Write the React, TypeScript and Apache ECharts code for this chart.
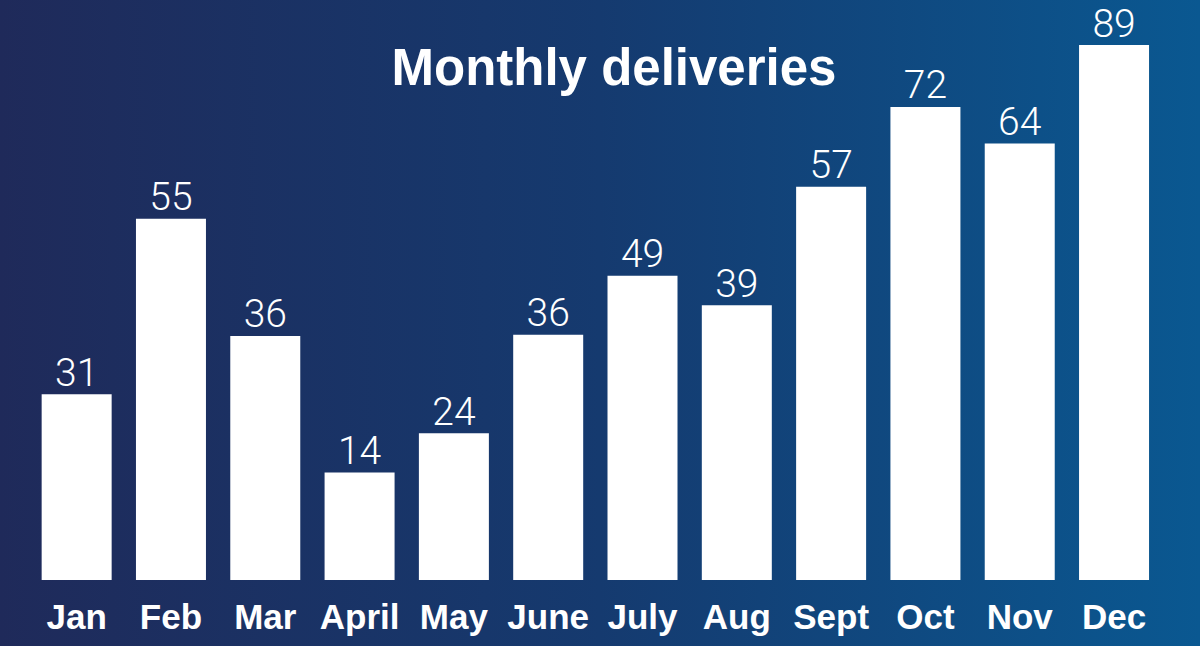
import React, { useEffect, useRef } from "react";
import * as echarts from "echarts";

const months = ["Jan", "Feb", "Mar", "April", "May", "June", "July", "Aug", "Sept", "Oct", "Nov", "Dec"];
// Printed delivery counts
const deliveries = [31, 55, 36, 14, 24, 36, 49, 39, 57, 72, 64, 89];
// Bar lengths as drawn in the source graphic (same units, scaled to Dec = 89)
const barHeights = [30.9, 60.1, 40.6, 17.9, 24.4, 40.8, 50.6, 45.7, 65.4, 78.7, 72.6, 89];
const titleText = "Monthly deliveries";

export default function App() {
  const ref = useRef<HTMLDivElement>(null);
  useEffect(() => {
    document.body.style.margin = "0";
    const chart = echarts.init(ref.current!, null, { renderer: "svg" });
    chart.setOption({
      animation: false,
      backgroundColor: "transparent",
      title: {
        text: titleText,
        left: 609,
        textAlign: "center",
        top: 37,
        textStyle: {
          color: "#ffffff",
          fontSize: 51,
          fontWeight: "bold",
          fontFamily: "'Liberation Sans', Arial, sans-serif",
        },
      },
      grid: { left: 29.5, right: 38.8, top: 45, bottom: 66 },
      xAxis: {
        type: "category",
        data: months,
        axisLine: { show: false },
        axisTick: { show: false },
        axisLabel: {
          color: "#ffffff",
          fontSize: 35,
          fontWeight: "bold",
          fontFamily: "'Liberation Sans', Arial, sans-serif",
          margin: 19,
          interval: 0,
        },
      },
      yAxis: {
        type: "value",
        min: 0,
        max: 89,
        show: false,
        splitLine: { show: false },
      },
      series: [
        {
          type: "bar",
          data: barHeights,
          barWidth: 70,
          itemStyle: { color: "#ffffff" },
          label: {
            show: true,
            position: "top",
            distance: 2,
            color: "#ffffff",
            fontSize: 39,
            fontWeight: 300,
            fontFamily: "'Helvetica Neue', Roboto, 'Open Sans', Lato, sans-serif",
            formatter: (p: any) => String(deliveries[p.dataIndex]),
          },
        },
      ],
    });
    return () => chart.dispose();
  }, []);
  return (
    <div
      ref={ref}
      style={{
        position: "fixed",
        left: 0,
        top: 0,
        width: 1200,
        height: 646,
        background: "linear-gradient(to right, #1f2a5a 0%, #153a6f 50%, #0a5891 100%)",
      }}
    />
  );
}
